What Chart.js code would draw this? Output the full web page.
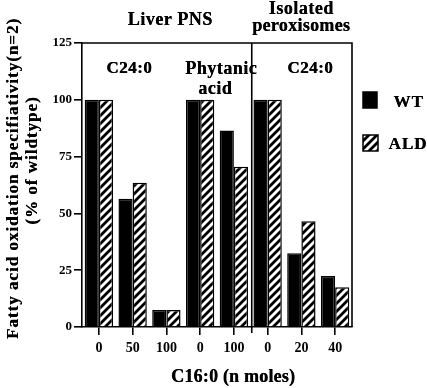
<!DOCTYPE html>
<html><head><meta charset="utf-8">
<style>html,body{margin:0;padding:0;background:#fff;}#wrap{width:427px;height:388px;position:relative;}</style>
<script src="https://cdn.jsdelivr.net/npm/chart.js@4"></script>
</head><body><div id="wrap"><canvas id="c" width="427" height="388"></canvas></div>
<script>
const categories = ['0', '50', '100', '0', '100', '0', '20', '40'];
const wtValues = [100, 56.5, 7.5, 100, 86.5, 100, 32.5, 22.5];
const aldValues = [100, 63.5, 7.5, 100, 70.5, 100, 46.5, 17.5];
const yTicks = [0, 25, 50, 75, 100, 125];
const seriesNames = ['WT', 'ALD'];
const yTitle = ['Fatty acid oxidation specifiativity(n=2)', '(% of wildtype)'];
const xTitle = 'C16:0 (n moles)';

const FONT = "'Liberation Serif', 'Times New Roman', serif";

function hatch() {
  const p = document.createElement('canvas'); p.width = 8; p.height = 8;
  const g = p.getContext('2d');
  g.fillStyle = '#fff'; g.fillRect(0, 0, 8, 8);
  g.strokeStyle = '#000'; g.lineWidth = 2.8; g.lineCap = 'square';
  g.beginPath();
  g.moveTo(-2, 10); g.lineTo(10, -2);
  g.moveTo(-2, 2); g.lineTo(2, -2);
  g.moveTo(6, 10); g.lineTo(10, 6);
  g.stroke();
  return g.createPattern(p, 'repeat');
}
const hatchPattern = hatch();

function txt(ctx, s, x, y, size, spacing) {
  ctx.font = 'bold ' + size + 'px ' + FONT;
  ctx.letterSpacing = (spacing || 0) + 'px';
  ctx.fillText(s, x + (spacing || 0) / 2, y);
  // slight extra weight to mimic the heavy print
  ctx.fillText(s, x + (spacing || 0) / 2 + 0.35, y);
}

const deco = {
  id: 'deco',
  afterDraw(chart) {
    const { ctx, chartArea: a, scales: { x } } = chart;
    ctx.save();
    ctx.strokeStyle = '#000'; ctx.lineWidth = 1.6;
    ctx.beginPath();
    ctx.moveTo(a.left, a.top); ctx.lineTo(a.right, a.top); ctx.lineTo(a.right, a.bottom);
    ctx.stroke();
    const sx = (x.getPixelForTick(4) + x.getPixelForTick(5)) / 2 + 1;
    ctx.beginPath(); ctx.moveTo(sx, a.top); ctx.lineTo(sx, a.bottom + 6); ctx.stroke();

    ctx.fillStyle = '#000'; ctx.textAlign = 'center'; ctx.textBaseline = 'middle';
    txt(ctx, 'Liver PNS', 170, 20, 18, 0.5);
    txt(ctx, 'Isolated', 301, 9, 18, 0.5);
    txt(ctx, 'peroxisomes', 301, 26, 18, 0.3);
    txt(ctx, 'C24:0', 129, 69, 17, 0.5);
    txt(ctx, 'Phytanic', 221, 69, 18, 0.5);
    txt(ctx, 'acid', 215, 89, 18, 0.5);
    txt(ctx, 'C24:0', 310, 69, 17, 0.5);
    txt(ctx, xTitle, 233, 377, 18, 0.2);

    ctx.save(); ctx.translate(14, 179); ctx.rotate(-Math.PI / 2);
    txt(ctx, yTitle[0], 0, 0, 17, 1);
    ctx.restore();
    ctx.save(); ctx.translate(33, 161); ctx.rotate(-Math.PI / 2);
    txt(ctx, yTitle[1], 0, 0, 17, 1);
    ctx.restore();

    // legend
    const items = chart.data.datasets;
    const boxes = [{ x: 363, y: 92, w: 14, h: 16, tx: 393, ty: 103 }, { x: 363, y: 135, w: 15, h: 16, tx: 388, ty: 145 }];
    items.forEach((ds, i) => {
      const b = boxes[i];
      ctx.fillStyle = ds.backgroundColor;
      ctx.fillRect(b.x, b.y, b.w, b.h);
      ctx.lineWidth = 1.5; ctx.strokeStyle = '#000';
      ctx.strokeRect(b.x, b.y, b.w, b.h);
      ctx.fillStyle = '#000'; ctx.textAlign = 'left';
      txt(ctx, ds.label, b.tx, b.ty, 17, 1);
    });
    ctx.restore();
  }
};

new Chart(document.getElementById('c'), {
  type: 'bar',
  data: {
    labels: categories,
    datasets: [
      { label: seriesNames[0], data: wtValues, backgroundColor: '#000', borderColor: '#000', borderWidth: 1.5 },
      { label: seriesNames[1], data: aldValues, backgroundColor: hatchPattern, borderColor: '#000', borderWidth: 1.5 }
    ]
  },
  options: {
    responsive: false,
    devicePixelRatio: 1,
    animation: false,
    layout: { padding: { left: 0, top: 43, right: 75, bottom: 0 } },
    plugins: { legend: { display: false }, tooltip: { enabled: false } },
    datasets: { bar: { categoryPercentage: 0.84, barPercentage: 1.0 } },
    scales: {
      x: {
        grid: { display: true, drawOnChartArea: false, drawTicks: true, tickLength: 8, color: '#000', lineWidth: 1.6, offset: false },
        border: { display: true, color: '#000', width: 1.6 },
        ticks: { color: '#000', font: { family: FONT, size: 14, weight: 'bold' }, padding: 5, maxRotation: 0, autoSkip: false },
        afterFit(s) { s.height = 61; }
      },
      y: {
        min: 0, max: 125,
        afterBuildTicks(s) { s.ticks = yTicks.map(v => ({ value: v })); },
        grid: { display: true, drawOnChartArea: false, drawTicks: true, tickLength: 8, color: '#000', lineWidth: 1.6 },
        border: { display: true, color: '#000', width: 1.6 },
        ticks: { color: '#000', font: { family: FONT, size: 13, weight: 'bold' }, padding: 2 },
        afterFit(s) { s.width = 82; }
      }
    }
  },
  plugins: [deco]
});
</script></body></html>
